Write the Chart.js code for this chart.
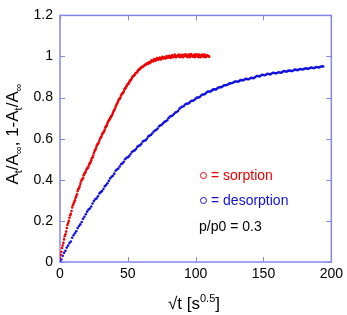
<!DOCTYPE html>
<html>
<head>
<meta charset="utf-8">
<script src="https://cdn.jsdelivr.net/npm/chart.js@4.4.1/dist/chart.umd.min.js"></script>
<style>
  html, body { margin: 0; padding: 0; background: #fff; }
  #wrap { width: 347px; height: 315px; }
</style>
</head>
<body>
<div id="wrap"><canvas id="kineticsChart"></canvas></div>
<script>
const ctx = document.getElementById('kineticsChart').getContext('2d');

// sqrt(t) [s^0.5] and normalised uptake (two passes over each curve)
const sorptionX = [
    0, 1, 2, 3, 4, 5, 6, 7, 8, 9, 10, 11, 12, 13, 14, 15, 16, 17, 18, 19,
    20, 21, 22, 23, 24, 25, 26, 27, 28, 29, 30, 31, 32, 33, 34, 35, 36, 37, 38, 39,
    40, 41, 42, 43, 44, 45, 46, 47, 48, 49, 50, 51, 52, 53, 54, 55, 56, 57, 58, 59,
    60, 61, 62, 63, 64, 65, 66, 67, 68, 69, 70, 71, 72, 73, 74, 75, 76, 77, 78, 79,
    80, 81, 82, 83, 84, 85, 86, 87, 88, 89, 90, 91, 92, 93, 94, 95, 96, 97, 98, 99,
    100, 101, 102, 103, 104, 105, 106, 107, 108, 109, 110
]
const sorptionY = [
    0.02, 0.05, 0.08, 0.11, 0.135, 0.165, 0.19, 0.215, 0.235, 0.265, 0.285, 0.30, 0.32, 0.345, 0.36, 0.38, 0.40, 0.41, 0.43, 0.44,
    0.455, 0.465, 0.48, 0.495, 0.51, 0.53, 0.545, 0.565, 0.575, 0.59, 0.605, 0.62, 0.63, 0.645, 0.66, 0.675, 0.69, 0.70, 0.71, 0.725,
    0.74, 0.755, 0.77, 0.785, 0.795, 0.81, 0.82, 0.83, 0.845, 0.855, 0.865, 0.875, 0.885, 0.895, 0.905, 0.91, 0.92, 0.925, 0.935, 0.94,
    0.945, 0.95, 0.955, 0.96, 0.965, 0.965, 0.97, 0.975, 0.98, 0.978, 0.985, 0.983, 0.99, 0.987, 0.99, 0.993, 0.99, 0.996, 0.992, 0.998,
    0.995, 1.0, 0.996, 1.003, 0.998, 1.004, 1.0, 1.006, 0.999, 1.005, 1.0, 1.008, 1.002, 1.006, 0.998, 1.009, 1.002, 1.007, 0.999, 1.01,
    1.003, 1.008, 0.997, 1.006, 1.0, 1.009, 0.998, 1.005, 1.001, 1.004, 0.999
]
const sorptionX2 = [
    0.5, 1.5, 2.5, 3.5, 4.5, 5.5, 6.5, 7.5, 8.5, 9.5, 10.5, 11.5, 12.5, 13.5, 14.5, 15.5, 16.5, 17.5, 18.5, 19.5,
    20.5, 21.5, 22.5, 23.5, 24.5, 25.5, 26.5, 27.5, 28.5, 29.5, 30.5, 31.5, 32.5, 33.5, 34.5, 35.5, 36.5, 37.5, 38.5, 39.5,
    40.5, 41.5, 42.5, 43.5, 44.5, 45.5, 46.5, 47.5, 48.5, 49.5, 50.5, 51.5, 52.5, 53.5, 54.5, 55.5, 56.5, 57.5, 58.5, 59.5,
    60.5, 61.5, 62.5, 63.5, 64.5, 65.5, 66.5, 67.5, 68.5, 69.5, 70.5, 71.5, 72.5, 73.5, 74.5, 75.5, 76.5, 77.5, 78.5, 79.5,
    80.5, 81.5, 82.5, 83.5, 84.5, 85.5, 86.5, 87.5, 88.5, 89.5, 90.5, 91.5, 92.5, 93.5, 94.5, 95.5, 96.5, 97.5, 98.5, 99.5,
    100.5, 101.5, 102.5, 103.5, 104.5, 105.5, 106.5, 107.5, 108.5, 109.5
]
const sorptionY2 = [
    0.035, 0.068, 0.093, 0.125, 0.148, 0.18, 0.2, 0.227, 0.248, 0.276, 0.292, 0.312, 0.33, 0.354, 0.368, 0.392, 0.403, 0.422, 0.434, 0.45,
    0.458, 0.475, 0.486, 0.505, 0.518, 0.54, 0.553, 0.572, 0.58, 0.6, 0.61, 0.627, 0.636, 0.655, 0.666, 0.684, 0.693, 0.707, 0.716, 0.734,
    0.746, 0.764, 0.776, 0.792, 0.8, 0.817, 0.824, 0.84, 0.848, 0.862, 0.868, 0.882, 0.888, 0.902, 0.906, 0.917, 0.921, 0.932, 0.936, 0.945,
    0.95, 0.952, 0.96, 0.961, 0.968, 0.972, 0.968, 0.982, 0.976, 0.988, 0.98, 0.992, 0.985, 0.995, 0.986, 0.998, 0.994, 0.99, 1.002, 0.994,
    1.004, 0.993, 1.006, 0.997, 1.009, 0.996, 1.003, 1.01, 0.997, 1.008, 0.996, 1.004, 1.011, 0.999, 1.007, 0.996, 1.012, 1.0, 1.006, 0.997,
    1.011, 1.0, 1.009, 0.996, 1.007, 1.001, 1.01, 0.997, 1.006, 1.002
]

const desorptionX = [
    0, 2, 4, 6, 8, 10, 12, 14, 16, 18, 20, 22, 24, 26, 28, 30, 32, 34, 36, 38,
    40, 42, 44, 46, 48, 50, 52, 54, 56, 58, 60, 62, 64, 66, 68, 70, 72, 74, 76, 78,
    80, 82, 84, 86, 88, 90, 92, 94, 96, 98, 100, 102, 104, 106, 108, 110, 112, 114, 116, 118,
    120, 122, 124, 126, 128, 130, 132, 134, 136, 138, 140, 142, 144, 146, 148, 150, 152, 154, 156, 158,
    160, 162, 164, 166, 168, 170, 172, 174, 176, 178, 180, 182, 184, 186, 188, 190, 192, 194
]
const desorptionY = [
    0.0, 0.03, 0.055, 0.08, 0.10, 0.13, 0.15, 0.175, 0.195, 0.22, 0.245, 0.26, 0.285, 0.305, 0.32, 0.34, 0.355, 0.375, 0.395, 0.415,
    0.43, 0.45, 0.465, 0.48, 0.50, 0.51, 0.525, 0.54, 0.55, 0.565, 0.575, 0.59, 0.60, 0.615, 0.625, 0.64, 0.65, 0.665, 0.675, 0.685,
    0.70, 0.71, 0.72, 0.73, 0.745, 0.755, 0.765, 0.77, 0.78, 0.785, 0.795, 0.80, 0.81, 0.815, 0.825, 0.83, 0.835, 0.84, 0.845, 0.85,
    0.855, 0.86, 0.865, 0.87, 0.875, 0.878, 0.88, 0.885, 0.888, 0.89, 0.893, 0.895, 0.90, 0.905, 0.907, 0.91, 0.912, 0.915, 0.917, 0.92,
    0.92, 0.922, 0.925, 0.928, 0.93, 0.93, 0.932, 0.935, 0.936, 0.938, 0.94, 0.941, 0.943, 0.945, 0.946, 0.948, 0.95, 0.951
]
const desorptionX2 = [
    1, 3, 5, 7, 9, 11, 13, 15, 17, 19, 21, 23, 25, 27, 29, 31, 33, 35, 37, 39,
    41, 43, 45, 47, 49, 51, 53, 55, 57, 59, 61, 63, 65, 67, 69, 71, 73, 75, 77, 79,
    81, 83, 85, 87, 89, 91, 93, 95, 97, 99, 101, 103, 105, 107, 109, 111, 113, 115, 117, 119,
    121, 123, 125, 127, 129, 131, 133, 135, 137, 139, 141, 143, 145, 147, 149, 151, 153, 155, 157, 159,
    161, 163, 165, 167, 169, 171, 173, 175, 177, 179, 181, 183, 185, 187, 189, 191, 193
]
const desorptionY2 = [
    0.012, 0.045, 0.07, 0.092, 0.118, 0.14, 0.165, 0.183, 0.21, 0.232, 0.255, 0.27, 0.297, 0.31, 0.333, 0.345, 0.368, 0.383, 0.407, 0.42,
    0.444, 0.455, 0.476, 0.488, 0.507, 0.516, 0.535, 0.543, 0.56, 0.568, 0.586, 0.592, 0.61, 0.618, 0.634, 0.643, 0.66, 0.668, 0.682, 0.69,
    0.708, 0.713, 0.727, 0.735, 0.752, 0.758, 0.77, 0.773, 0.785, 0.788, 0.8, 0.803, 0.815, 0.818, 0.829, 0.83, 0.84, 0.84, 0.85, 0.851,
    0.86, 0.861, 0.869, 0.871, 0.878, 0.877, 0.885, 0.884, 0.891, 0.889, 0.896, 0.895, 0.905, 0.903, 0.911, 0.909, 0.916, 0.913, 0.921, 0.918,
    0.923, 0.921, 0.929, 0.926, 0.932, 0.929, 0.936, 0.933, 0.939, 0.937, 0.942, 0.94, 0.946, 0.943, 0.949, 0.947, 0.952
]

const xTicks = [0, 50, 100, 150, 200]
const xTickLabels = ['0', '50', '100', '150', '200']
const yTicks = [0, 0.2, 0.4, 0.6, 0.8, 1, 1.2]
const yTickLabels = ['0', '0.2', '0.4', '0.6', '0.8', '1', '1.2']

const RED = '#ee0000';
const BLUE = '#1010e0';
const FRAME = '#8585f0';
const FONT = '"Liberation Sans", Arial, sans-serif';

const toPoints = (xs, ys) => xs.map((x, i) => ({ x: x, y: ys[i] }));

// box, inward ticks on all four sides, titles and the text legend
const framePlugin = {
    id: 'frame',
    beforeDatasetsDraw(chart) {
        const { ctx, chartArea: a, scales } = chart;
        ctx.save();
        ctx.strokeStyle = FRAME;
        ctx.lineWidth = 1.5;
        ctx.strokeRect(a.left, a.top, a.right - a.left, a.bottom - a.top);
        ctx.lineWidth = 1;
        ctx.beginPath();
        xTicks.forEach(v => {
            const px = Math.round(scales.x.getPixelForValue(v)) + 0.5;
            ctx.moveTo(px, a.bottom); ctx.lineTo(px, a.bottom - 5);
            ctx.moveTo(px, a.top); ctx.lineTo(px, a.top + 5);
        });
        yTicks.forEach(v => {
            const py = Math.round(scales.y.getPixelForValue(v)) + 0.5;
            ctx.moveTo(a.left, py); ctx.lineTo(a.left + 5, py);
            ctx.moveTo(a.right, py); ctx.lineTo(a.right - 5, py);
        });
        ctx.stroke();
        ctx.restore();
    },
    afterDraw(chart) {
        const { ctx } = chart;
        ctx.save();
        ctx.fillStyle = '#000';
        ctx.textBaseline = 'alphabetic';

        // y title: A_t/A_inf, 1-A_t/A_inf
        const parts = [
            ['A', 0], ['t', 1], ['/A', 0], ['\u221E', 1], [', 1-A', 0], ['t', 1], ['/A', 0], ['\u221E', 1]
        ];
        const big = '17px ' + FONT, small = '11px ' + FONT;
        let w = 0;
        parts.forEach(p => { ctx.font = p[1] ? small : big; w += ctx.measureText(p[0]).width; });
        ctx.translate(18, 134);
        ctx.rotate(-Math.PI / 2);
        let x = -w / 2;
        parts.forEach(p => {
            ctx.font = p[1] ? small : big;
            ctx.fillText(p[0], x, p[1] ? 4 : 0);
            x += ctx.measureText(p[0]).width;
        });
        ctx.setTransform(1, 0, 0, 1, 0, 0);

        // x title: sqrt(t) [s^0.5]
        const xparts = [['\u221At [s', 0], ['0.5', 1], [']', 0]];
        w = 0;
        xparts.forEach(p => { ctx.font = p[1] ? small : big; w += ctx.measureText(p[0]).width; });
        x = 194 - w / 2;
        xparts.forEach(p => {
            ctx.font = p[1] ? small : big;
            ctx.fillText(p[0], x, p[1] ? 302 : 309);
            x += ctx.measureText(p[0]).width;
        });

        // legend written in the plot
        ctx.font = '14px ' + FONT;
        ctx.lineWidth = 1;
        const rows = [['= sorption', RED, 180], ['= desorption', BLUE, 205]];
        rows.forEach(r => {
            ctx.strokeStyle = r[1];
            ctx.beginPath();
            ctx.arc(203.5, r[2] - 4.5, 3, 0, Math.PI * 2);
            ctx.stroke();
            ctx.fillStyle = r[1];
            ctx.fillText(r[0], 211, r[2]);
        });
        ctx.fillStyle = '#000';
        ctx.fillText('p/p0 = 0.3', 199, 231);
        ctx.restore();
    }
};

const data = {
    datasets: [
        {
            label: 'sorption',
            data: toPoints(sorptionX, sorptionY).concat(toPoints(sorptionX2, sorptionY2)),
            backgroundColor: RED,
            borderWidth: 0,
            pointRadius: 1.3,
        },
        {
            label: 'desorption',
            data: toPoints(desorptionX, desorptionY).concat(toPoints(desorptionX2, desorptionY2)),
            backgroundColor: BLUE,
            borderWidth: 0,
            pointRadius: 1.3,
        },
    ],
};

const config = {
    type: 'scatter',
    data: data,
    options: {
        responsive: true,
        maintainAspectRatio: false,
        animation: false,
        layout: {
            padding: { left: 0, right: 15, top: 10, bottom: 0 }
        },
        plugins: {
            legend: false,
            tooltip: { enabled: false },
        },
        scales: {
            x: {
                type: 'linear',
                min: 0,
                max: 200,
                afterFit: scale => { scale.height = 53; },
                afterBuildTicks: scale => { scale.ticks = xTicks.map(v => ({ value: v })); },
                grid: { display: false, drawTicks: false },
                border: { display: false },
                ticks: {
                    padding: 4,
                    color: '#000',
                    font: { family: FONT, size: 14 },
                    callback: (v, i) => xTickLabels[i],
                },
            },
            y: {
                type: 'linear',
                min: 0,
                max: 1.2,
                afterFit: scale => { scale.width = 60; },
                afterBuildTicks: scale => { scale.ticks = yTicks.map(v => ({ value: v })); },
                grid: { display: false, drawTicks: false },
                border: { display: false },
                ticks: {
                    padding: 7,
                    color: '#000',
                    font: { family: FONT, size: 14 },
                    callback: (v, i) => yTickLabels[i],
                },
            },
        },
    },
    plugins: [framePlugin],
};

const kineticsChart = new Chart(ctx, config);
</script>
</body>
</html>
